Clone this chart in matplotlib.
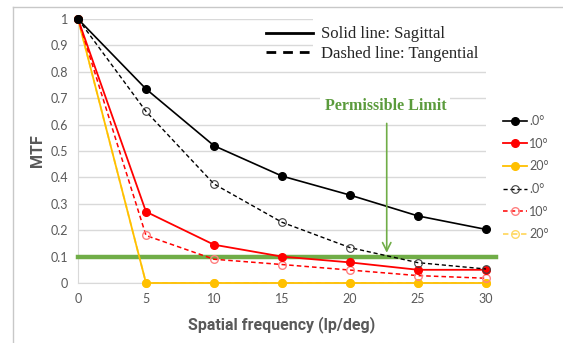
import matplotlib.pyplot as plt
from matplotlib.patches import Rectangle
from matplotlib.lines import Line2D

freq = [0, 5, 10, 15, 20, 25, 30]

sag_0 = [1, 0.735, 0.52, 0.405, 0.333, 0.254, 0.203]
sag_10 = [1, 0.27, 0.145, 0.10, 0.078, 0.05, 0.05]
sag_20 = [1, 0, 0, 0, 0, 0, 0]

tan_0 = [1, 0.65, 0.375, 0.23, 0.134, 0.077, 0.053]
tan_10 = [1, 0.18, 0.09, 0.07, 0.049, 0.028, 0.018]
tan_20 = [1, 0, 0, 0, 0, 0, 0]

labels = ['.0°', '10°', '20°', '.0°', '10°', '20°']
limit = 0.1
limit_x = 22.7

W, H = 563, 343
gray = '#595959'
green = '#70AD47'

plt.rcParams['font.family'] = ['Lato', 'DejaVu Sans']

fig = plt.figure(figsize=(W / 100, H / 100), dpi=100)
ax = fig.add_axes([78 / W, 1 - 283 / H, (486 - 78) / W, (283 - 19) / H])

# figure border (top and left only visible)
fig.add_artist(Line2D([12.5 / W, 1], [1 - 6.5 / H] * 2, color='#c8c8c8', lw=1))
fig.add_artist(Line2D([12.5 / W] * 2, [0, 1 - 6.5 / H], color='#c8c8c8', lw=1))

ax.set_xlim(0, 30)
ax.set_ylim(0, 1)
ax.set_xticks(range(0, 31, 5))
ax.set_yticks([i / 10 for i in range(11)])
ax.set_yticklabels(['0', '0.1', '0.2', '0.3', '0.4', '0.5', '0.6', '0.7', '0.8', '0.9', '1'])
ax.tick_params(length=0, labelsize=9, labelcolor=gray, pad=7)
ax.grid(axis='y', color='#d9d9d9', lw=1)
ax.set_axisbelow(True)
for s in ['top', 'right']:
    ax.spines[s].set_visible(False)
for s in ['left', 'bottom']:
    ax.spines[s].set_color('#d9d9d9')

ax.set_ylabel('MTF', family='Roboto', fontsize=11.5, fontweight='bold', color=gray, labelpad=4)
ax.set_xlabel('Spatial frequency (lp/deg)', family='Roboto', fontsize=11.5, fontweight='bold',
              color=gray, labelpad=8)

# white box hiding the grid behind the line-style notes
ax.add_patch(Rectangle((313 / W, 1 - 66 / H), (487 - 313) / W, (66 - 12) / H,
                       transform=fig.transFigure, facecolor='white', edgecolor='none', zorder=1.5))

ms = 5.5
ax.plot(freq, sag_20, color='#FFC000', lw=1.3, marker='o', ms=ms, clip_on=False, zorder=3)
ax.plot(freq, tan_20, color='#FFD966', lw=1.3, dashes=(3, 2), marker='o', ms=ms,
        mfc='none', mec='#FFD966', clip_on=False, zorder=2.5)
ax.plot(freq, tan_10, color='#FF0000', lw=1.1, dashes=(3, 2), marker='o', ms=ms,
        mfc='none', mec='#FF8080', clip_on=False, zorder=3)
ax.plot(freq, sag_10, color='#FF0000', lw=1.3, marker='o', ms=ms, clip_on=False, zorder=3)
ax.plot(freq, tan_0, color='black', lw=1.0, dashes=(3, 2), marker='o', ms=ms,
        mfc='none', mec='#404040', mew=0.8, clip_on=False, zorder=3)
ax.plot(freq, sag_0, color='black', lw=1.2, marker='o', ms=ms, clip_on=False, zorder=3)

# permissible limit
ax.plot([0, 30.7], [limit, limit], color=green, lw=3.2, clip_on=False, zorder=2.8)
ax.annotate('', xy=(limit_x, limit + 0.004), xytext=(limit_x, 0.615),
            arrowprops=dict(arrowstyle='->', color=green, lw=1.2, mutation_scale=15), zorder=4)
ax.text(limit_x - 0.1, 0.67, 'Permissible Limit', family='Liberation Serif', fontweight='bold',
        fontsize=11.5, color='#5B9B3C', ha='center', va='center', zorder=4,
        bbox=dict(facecolor='white', edgecolor='none', pad=3))

# line style notes
fig.add_artist(Line2D([266 / W, 313 / W], [1 - 33 / H] * 2, color='black', lw=2))
fig.add_artist(Line2D([266 / W, 313 / W], [1 - 52 / H] * 2, color='black', lw=2, dashes=(3.5, 2.5)))
fig.text(321 / W, 1 - 34 / H, 'Solid line: Sagittal', family='Liberation Serif', fontsize=12,
         color='#262626', va='center')
fig.text(321 / W, 1 - 54 / H, 'Dashed line: Tangential', family='Liberation Serif', fontsize=12,
         color='#262626', va='center')

handles = ax.get_lines()[:6]
order = [5, 3, 0, 4, 2, 1]
fig.legend([handles[i] for i in order], labels, loc='upper left',
           bbox_to_anchor=(503 / W, 1 - 115 / H), frameon=False, fontsize=9,
           labelcolor=gray, handlelength=1.9, handletextpad=0.2, labelspacing=0.85,
           borderaxespad=0, borderpad=0)

fig.savefig('out.png', dpi=100)
